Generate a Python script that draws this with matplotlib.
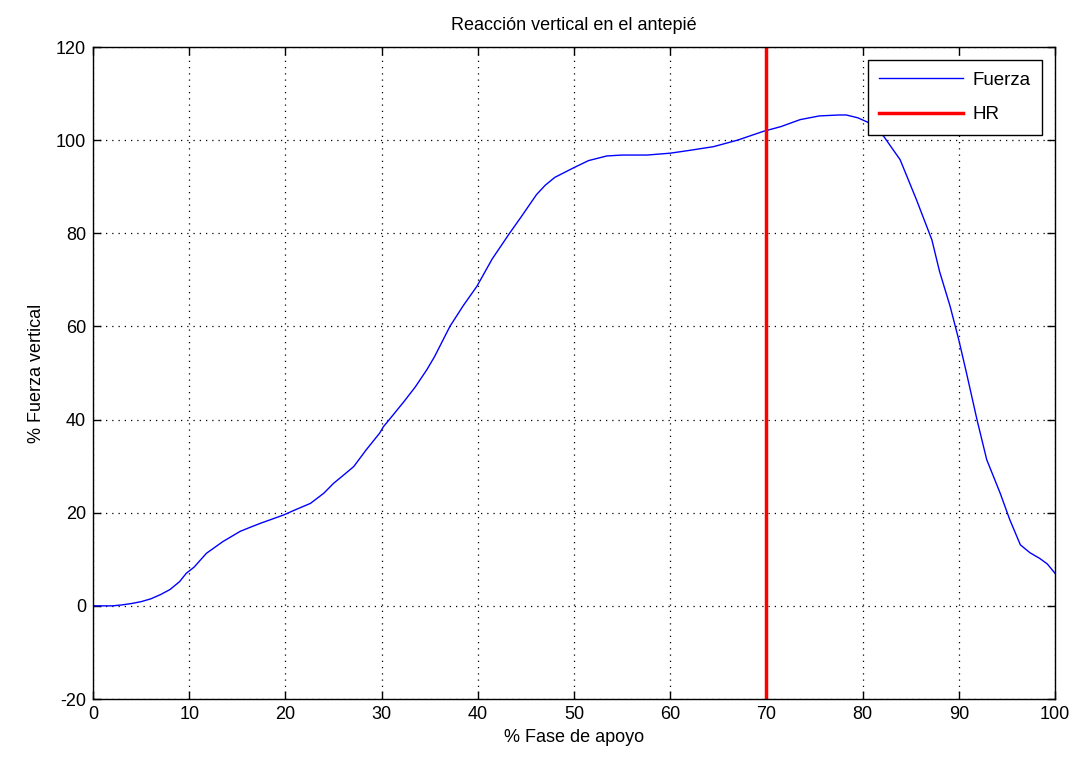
import matplotlib
matplotlib.use("Agg")
import matplotlib.pyplot as plt

x_fase = [0, 1, 2, 3, 4, 5, 6, 7, 8, 9, 9.7, 10.5, 11.8, 13.5, 15.3, 16.5, 17.5, 19.8, 21,
          22.6, 24, 25.0, 26, 27.1, 28.4, 29.8, 30.2, 31, 32.3, 33.5, 34.7, 35.5, 37.1,
          38.5, 39.9, 41.5, 43.3, 44.5, 46.1, 47, 48, 49.9, 51.5, 53.4, 55, 57.6, 60.0,
          62, 64.5, 67, 69.7, 71.5, 73.5, 75.5, 77.5, 78.3, 79.5, 80.8, 82.2, 83.9, 85.6,
          87.2, 88.0, 89.1, 90.0, 90.8, 91.9, 92.9, 94.3, 95.3, 96.4, 97.4, 98.4, 99.2, 100]
fuerza = [0, 0, 0, 0.2, 0.5, 0.9, 1.5, 2.4, 3.5, 5.2, 7.0, 8.3, 11.3, 13.8, 16.0, 17.0, 17.8,
          19.5, 20.6, 22.0, 24.2, 26.3, 28.0, 29.9, 33.5, 37.1, 38.5, 40.5, 43.8, 47.0, 50.7,
          53.5, 60.0, 64.5, 68.6, 74.5, 80.0, 83.5, 88.3, 90.3, 92.0, 94.0, 95.6, 96.6,
          96.8, 96.8, 97.2, 97.8, 98.6, 100.0, 101.9, 102.9, 104.4, 105.2, 105.4, 105.4,
          104.8, 103.6, 100.8, 95.8, 87.2, 78.6, 71.8, 64.3, 57.1, 50.0, 39.9, 31.4, 24.2,
          18.5, 13.1, 11.4, 10.2, 9.0, 7.0]
hr_x = 70
y_ticks = [-20, 0, 20, 40, 60, 80, 100, 120]
x_ticks = [0, 10, 20, 30, 40, 50, 60, 70, 80, 90, 100]

plt.rcParams['font.family'] = ['Liberation Sans', 'DejaVu Sans']
plt.rcParams['axes.unicode_minus'] = False
fs = 13

fig = plt.figure(figsize=(10.77, 7.62), dpi=100)
ax = fig.add_axes([93/1077, 1-699/762, (1055-93)/1077, (699-47)/762])

ax.plot(x_fase, fuerza, color='#0000ff', lw=1.0, label='Fuerza')
ax.axvline(hr_x, color='#ff0000', lw=2.5, label='HR')

ax.set_xlim(0, 100)
ax.set_ylim(-20, 120)
ax.set_xticks(x_ticks)
ax.set_yticks(y_ticks)
ax.tick_params(direction='in', top=True, right=True, length=6, width=1, labelsize=fs, pad=5)
ax.grid(True, color='black', linestyle=(0, (1, 4)), linewidth=0.9)
for s in ax.spines.values():
    s.set_linewidth(1.0)

ax.set_title('Reacción vertical en el antepié', fontsize=fs, pad=12)
ax.set_xlabel('% Fase de apoyo', fontsize=fs, labelpad=4)
ax.set_ylabel('% Fuerza vertical', fontsize=fs, labelpad=8)

leg = ax.legend(loc='upper right', fontsize=13.5, fancybox=False, framealpha=1,
                edgecolor='black', borderaxespad=0.7, handlelength=4.5,
                labelspacing=0.95, borderpad=0.6, handletextpad=0.5)
leg.get_frame().set_linewidth(1.0)

fig.savefig('out.png', dpi=100)
